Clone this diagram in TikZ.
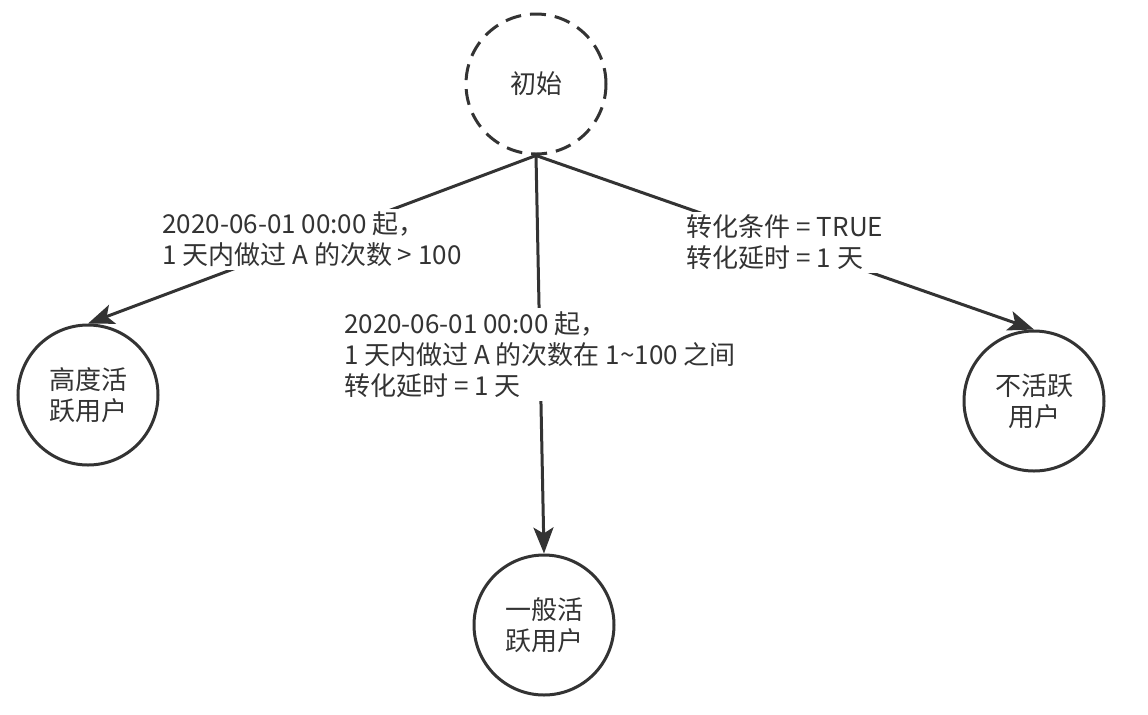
\documentclass[tikz,border=0pt]{standalone}
\usepackage{fontspec}
\setmainfont{Noto Sans CJK SC}
\usepackage{tikz}
\usetikzlibrary{shapes,arrows.meta,positioning}
\definecolor{ink}{HTML}{333333}
\tikzstyle{state} = [circle, draw=ink, line width=1.5pt, minimum size=70pt, inner sep=0pt, align=center, text=ink]
\tikzstyle{line} = [draw=ink, line width=1.5pt, -{Stealth[length=13pt, width=10pt, inset=3pt]}]
\tikzstyle{cond} = [fill=white, align=left, text=ink, inner sep=1.5pt, midway]

\begin{document}
\begin{tikzpicture}[on grid, font=\fontsize{13pt}{15.5pt}\selectfont]
      \useasboundingbox (0pt,0pt) rectangle (574pt,-357pt);
      \node [state, dash pattern=on 8pt off 4.5pt] (init) at (268pt,-42pt) {初始};
      \node [state, below left=155.5pt and 224pt of init] (high) {高度活\\跃用户};
      \node [state, below right=270.5pt and 4pt of init] (mid) {一般活\\跃用户};
      \node [state, below right=158.5pt and 249pt of init] (low) {不活跃\\用户};

      \path [line] (init.south) -- node [cond] {2020-06-01 00:00 起，\\1 天内做过 A 的次数 > 100} (high.north);
      \path [line] (init.south) -- node [cond] {2020-06-01 00:00 起，\\1 天内做过 A 的次数在 1\textasciitilde100 之间\\转化延时 = 1 天} (mid.north);
      \path [line] (init.south) -- node [cond] {转化条件 = TRUE\\转化延时 = 1 天} (low.north);
    \end{tikzpicture}
\end{document}
